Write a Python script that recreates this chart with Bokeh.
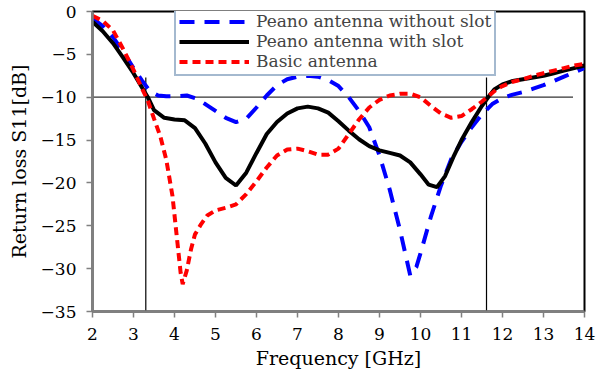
from bokeh.plotting import figure
from bokeh.models import FixedTicker, Legend, LegendItem
from bokeh.embed import file_html
from bokeh.resources import INLINE

# Peano antenna without slot
f_blue = [2.0, 2.25, 2.5, 2.75, 3.0, 3.2, 3.4, 3.6, 3.8, 4.0, 4.3, 4.5, 4.75, 5.0, 5.25, 5.5, 5.75, 6.0,
          6.25, 6.5, 6.75, 7.0, 7.25, 7.5, 7.75, 8.0, 8.25, 8.5, 8.75, 9.0, 9.25, 9.5, 9.75, 9.9, 10.0,
          10.25, 10.5, 10.75, 11.0, 11.25, 11.5, 11.75, 12.0, 12.25, 12.5, 12.75, 13.0, 13.25, 13.5, 13.75, 14.0]
s_blue = [-0.8, -1.7, -3.0, -4.7, -6.6, -8.0, -9.3, -9.8, -9.9, -9.9, -9.8, -10.1, -10.8, -11.6, -12.4, -12.9, -12.5, -11.2,
          -9.8, -8.6, -7.9, -7.6, -7.5, -7.6, -8.0, -8.7, -10.0, -11.6, -13.5, -16.8, -20.8, -25.5, -30.8, -29.8, -28.2,
          -24.0, -20.3, -17.2, -15.2, -13.5, -12.0, -10.8, -10.1, -9.7, -9.4, -9.0, -8.6, -8.1, -7.6, -7.1, -6.6]

# Peano antenna with slot
f_black = [2.0, 2.25, 2.5, 2.75, 3.0, 3.2, 3.35, 3.5, 3.75, 4.0, 4.25, 4.5, 4.75, 5.0, 5.25, 5.5, 5.75, 6.0,
           6.25, 6.5, 6.75, 7.0, 7.25, 7.5, 7.75, 8.0, 8.25, 8.5, 8.75, 9.0, 9.25, 9.5, 9.75, 10.0, 10.2, 10.4,
           10.6, 10.8, 11.0, 11.25, 11.5, 11.65, 11.8, 12.0, 12.25, 12.5, 12.75, 13.0, 13.25, 13.5, 13.75, 14.0]
s_black = [-1.2, -2.3, -3.7, -5.4, -7.2, -8.8, -10.0, -11.5, -12.4, -12.6, -12.7, -13.6, -15.4, -17.6, -19.4, -20.3, -18.8, -16.5,
           -14.3, -12.9, -11.9, -11.3, -11.1, -11.3, -11.8, -12.8, -13.9, -14.9, -15.7, -16.2, -16.5, -16.8, -17.6, -19.0, -20.2, -20.5,
           -19.2, -17.0, -15.0, -12.9, -11.0, -10.0, -9.1, -8.5, -8.1, -7.9, -7.7, -7.5, -7.2, -6.9, -6.6, -6.3]

# Basic antenna
f_red = [2.0, 2.25, 2.5, 2.75, 3.0, 3.2, 3.35, 3.5, 3.65, 3.8, 3.95, 4.05, 4.15, 4.2, 4.3, 4.4, 4.5, 4.65, 4.8,
         5.0, 5.25, 5.5, 5.75, 6.0, 6.25, 6.5, 6.75, 7.0, 7.25, 7.5, 7.75, 8.0, 8.25, 8.5, 8.75, 9.0, 9.25, 9.5,
         9.75, 10.0, 10.25, 10.5, 10.75, 11.0, 11.25, 11.5, 11.65, 11.85, 12.0, 12.25, 12.5, 12.75, 13.0, 13.25, 13.5, 13.75, 14.0]
s_red = [-0.5, -1.1, -2.2, -4.4, -6.8, -8.9, -10.4, -12.5, -14.5, -17.3, -21.5, -26.0, -30.5, -31.8, -30.2, -27.8, -26.0, -24.8, -23.8,
         -23.2, -22.9, -22.5, -21.3, -19.8, -18.2, -16.8, -16.1, -16.0, -16.3, -16.7, -16.7, -16.0, -14.3, -12.6, -11.2, -10.3, -9.8, -9.6,
         -9.6, -10.0, -11.0, -11.9, -12.4, -12.2, -11.4, -10.5, -9.9, -9.1, -8.7, -8.2, -7.9, -7.5, -7.2, -6.9, -6.6, -6.3, -6.1]

x_ticks = [2, 3, 4, 5, 6, 7, 8, 9, 10, 11, 12, 13, 14]
y_ticks = [-35, -30, -25, -20, -15, -10, -5, 0]

# -10 dB reference and band edges
ref_level = -10
ref_x = [2, 13.72]
band_edges = [3.3, 11.61]
band_y = [-35.6, -7.7]

FONT = "DejaVu Serif"

p = figure(width=602, height=383, output_backend="svg", toolbar_location=None,
           x_range=(2, 14), y_range=(-35, 0),
           min_border_left=92, min_border_right=18, min_border_top=11, min_border_bottom=72)
p.background_fill_color = "white"
p.border_fill_color = "white"
p.outline_line_color = "black"
p.outline_line_width = 2
p.xgrid.visible = False
p.ygrid.visible = False

for ax in (p.xaxis[0], p.yaxis[0]):
    ax.axis_line_color = "#808080"
    ax.axis_line_width = 2.5
    ax.major_tick_line_color = "#808080"
    ax.major_tick_line_width = 1.5
    ax.major_tick_out = 6
    ax.major_tick_in = 0
    ax.minor_tick_line_color = None
    ax.major_label_text_font = FONT
    ax.major_label_text_font_size = "17px"
    ax.major_label_text_color = "black"
    ax.axis_label_text_font = FONT
    ax.axis_label_text_font_size = "19px"
    ax.axis_label_text_font_style = "normal"
    ax.axis_label_text_color = "black"

p.xaxis.ticker = FixedTicker(ticks=x_ticks)
p.yaxis.ticker = FixedTicker(ticks=y_ticks)
p.xaxis.axis_label = "Frequency [GHz]"
p.yaxis.axis_label = "Return loss S11[dB]"
p.xaxis.major_label_standoff = 10
p.yaxis.major_label_standoff = 10
p.xaxis.axis_label_standoff = 4
p.yaxis.axis_label_standoff = 8

# reference lines
p.line(ref_x, [ref_level, ref_level], line_color="#333333", line_width=1.2)
for bx in band_edges:
    p.line([bx, bx], band_y, line_color="black", line_width=1.2)

r_blue = p.line(f_blue, s_blue, line_color="#0000ff", line_width=4, line_dash="15 10")
r_black = p.line(f_black, s_black, line_color="black", line_width=4)
r_red = p.line(f_red, s_red, line_color="#ff0000", line_width=4, line_dash="8 5")

legend = Legend(items=[
    LegendItem(label="Peano antenna without slot", renderers=[r_blue]),
    LegendItem(label="Peano antenna with slot", renderers=[r_black]),
    LegendItem(label="Basic antenna", renderers=[r_red]),
], location=(82, 235))
legend.label_text_font = FONT
legend.label_text_font_size = "17px"
legend.label_height = 17
legend.glyph_height = 17
legend.glyph_width = 70
legend.label_standoff = 7
legend.spacing = 0
legend.padding = 3
legend.margin = 0
legend.border_line_color = "#4a74a0"
legend.border_line_width = 2
legend.background_fill_alpha = 1
p.add_layout(legend, "center")

open("out.html", "w").write(file_html(p, INLINE))
